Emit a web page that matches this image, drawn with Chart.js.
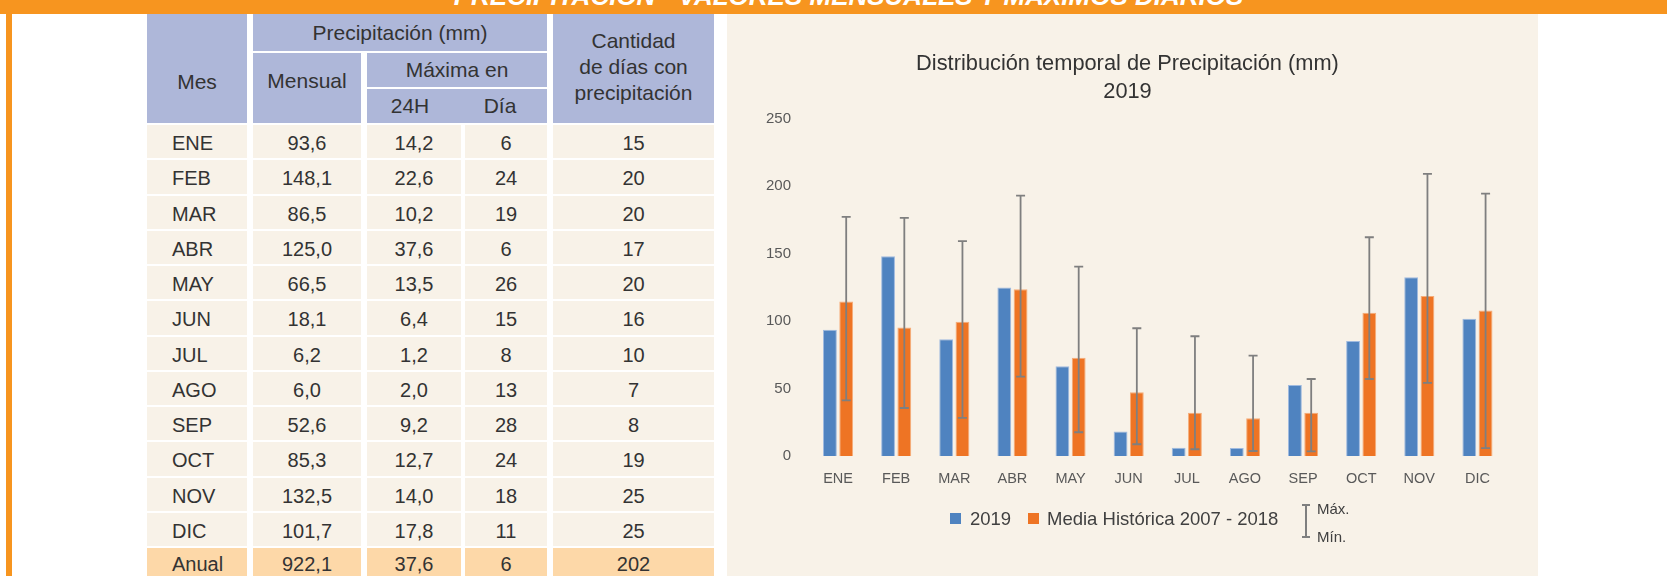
<!DOCTYPE html>
<html lang="es">
<head>
<meta charset="utf-8">
<title>Precipitación - valores mensuales y máximos diarios</title>
<script src="https://cdn.jsdelivr.net/npm/chart.js@4.4.1/dist/chart.umd.min.js"></script>
<style>
  body {
    margin: 0;
    width: 1667px;
    height: 576px;
    overflow: hidden;
    position: relative;
    background: #fff;
    font-family: "Liberation Sans", Arial, sans-serif;
    color: #333;
  }
  .band {
    position: absolute; left: 0; top: 0;
    width: 1667px; height: 14px;
    background: #F7951F;
    overflow: hidden;
  }
  .band span {
    position: absolute; left: 440px; top: -16px;
    width: 817px; text-align: center;
    font: italic bold 26px/25px "Liberation Sans", Arial, sans-serif;
    color: #fff; white-space: nowrap;
  }
  .side {
    position: absolute; left: 6px; top: 0;
    width: 6px; height: 576px;
    background: #F7951F;
  }
  .cell {
    position: absolute;
    box-sizing: border-box;
    display: flex; align-items: center; justify-content: center;
    white-space: nowrap;
  }
  .head { background: #AEB7D9; font-size: 21px; }
  .row { background: #F8F2E8; font-size: 20px; padding-top: 4px; }
  .total { background: #FDD8A8; font-size: 20px; padding-top: 1px; }
  .panel {
    position: absolute; left: 727px; top: 14px;
    width: 811px; height: 562px;
    background: #F8F2E8;
  }
  .chartBox { position: absolute; left: 0; top: 1px; width: 811px; height: 561px; }
  .leg { position: absolute; white-space: nowrap; color: #404040; }
  .sq { position: absolute; width: 11px; height: 11px; }
</style>
</head>
<body>
<div class="band"><span>PRECIPITACIÓN - VALORES MENSUALES Y MÁXIMOS DIARIOS</span></div>
<div class="side"></div>
<div id="tabla"></div>

<div class="panel">
  <div class="chartBox"><canvas id="precipChart"></canvas></div>
</div>

<!-- leyenda -->
<div class="sq" style="left:950px; top:513px; background:#4F83C0;"></div>
<div class="leg" style="left:970px; top:507px; font-size:18.5px; line-height:24px;">2019</div>
<div class="sq" style="left:1028px; top:513px; background:#EE7424;"></div>
<div class="leg" style="left:1047px; top:507px; font-size:18.5px; line-height:24px;">Media Histórica 2007 - 2018</div>
<div style="position:absolute; left:1305px; top:505px; width:2px; height:32px; background:#7F7F7F;"></div>
<div style="position:absolute; left:1302px; top:504px; width:8px; height:2px; background:#7F7F7F;"></div>
<div style="position:absolute; left:1302px; top:536px; width:8px; height:2px; background:#7F7F7F;"></div>
<div class="leg" style="left:1317px; top:500px; font-size:15px; line-height:18px;">Máx.</div>
<div class="leg" style="left:1317px; top:528px; font-size:15px; line-height:18px;">Mín.</div>

<script>
const meses = ["ENE", "FEB", "MAR", "ABR", "MAY", "JUN", "JUL", "AGO", "SEP", "OCT", "NOV", "DIC"];
const mensual2019 = [93.6, 148.1, 86.5, 125.0, 66.5, 18.1, 6.2, 6.0, 52.6, 85.3, 132.5, 101.7];
const maxima24h = [14.2, 22.6, 10.2, 37.6, 13.5, 6.4, 1.2, 2.0, 9.2, 12.7, 14.0, 17.8];
const diaMaxima = [6, 24, 19, 6, 26, 15, 8, 13, 28, 24, 18, 11];
const diasConPrecip = [15, 20, 20, 17, 20, 16, 10, 7, 8, 19, 25, 25];
const anual = [922.1, 37.6, 6, 202];

// media histórica 2007-2018 y su rango
const mediaHistorica = [114.5, 95.2, 99.6, 123.6, 72.9, 47.2, 32.1, 28.0, 32.1, 106.3, 118.7, 107.8];
const maxHistorico = [177.3, 176.6, 159.3, 193.1, 140.4, 94.7, 88.8, 74.4, 57.1, 162.2, 209.2, 194.6];
const minHistorico = [41.3, 35.6, 28.2, 58.8, 17.6, 8.7, 5.0, 3.7, 3.5, 57.1, 54.2, 5.9];

const yTicks = [0, 50, 100, 150, 200, 250];

// ---- tabla ----
const cols = [[147, 247], [253, 361], [367, 461], [465, 547], [553, 714]];
const tabla = document.getElementById("tabla");

function addCell(cls, x0, x1, y0, y1, html, style) {
  const d = document.createElement("div");
  d.className = "cell " + cls;
  d.style.left = x0 + "px";
  d.style.top = y0 + "px";
  d.style.width = (x1 - x0) + "px";
  d.style.height = (y1 - y0) + "px";
  d.innerHTML = html;
  if (style) d.style.cssText += style;
  tabla.appendChild(d);
  return d;
}

const dec = v => v.toFixed(1).replace(".", ",");

addCell("head", 147, 247, 14, 123, "Mes", "padding-top:27px;");
addCell("head", 253, 547, 14, 51, "Precipitación (mm)");
addCell("head", 253, 361, 53, 123, "Mensual", "padding-bottom:14px;");
addCell("head", 367, 547, 53, 87, "Máxima en");
addCell("head", 367, 547, 89, 123,
  '<span style="position:absolute;left:43px;transform:translateX(-50%)">24H</span>' +
  '<span style="position:absolute;left:133px;transform:translateX(-50%)">Día</span>');
addCell("head", 553, 714, 14, 123,
  '<div style="text-align:center;line-height:26px;">Cantidad<br>de días con<br>precipitación</div>',
  "padding-bottom:4px;");

meses.forEach((m, i) => {
  const y0 = 125 + i * 35.25, y1 = y0 + 33.25;
  addCell("row", cols[0][0], cols[0][1], y0, y1, m, "justify-content:flex-start;padding-left:25px;");
  addCell("row", cols[1][0], cols[1][1], y0, y1, dec(mensual2019[i]));
  addCell("row", cols[2][0], cols[2][1], y0, y1, dec(maxima24h[i]));
  addCell("row", cols[3][0], cols[3][1], y0, y1, diaMaxima[i]);
  addCell("row", cols[4][0], cols[4][1], y0, y1, diasConPrecip[i]);
});

{
  const y0 = 548, y1 = 580;
  addCell("total", cols[0][0], cols[0][1], y0, y1, "Anual", "justify-content:flex-start;padding-left:25px;");
  addCell("total", cols[1][0], cols[1][1], y0, y1, dec(anual[0]));
  addCell("total", cols[2][0], cols[2][1], y0, y1, dec(anual[1]));
  addCell("total", cols[3][0], cols[3][1], y0, y1, anual[2]);
  addCell("total", cols[4][0], cols[4][1], y0, y1, anual[3]);
}

// ---- gráfico ----
Chart.defaults.font.family = '"Liberation Sans", Arial, sans-serif';

const errorBars = {
  id: "errorBars",
  afterDatasetsDraw(chart) {
    const meta = chart.getDatasetMeta(1);
    const y = chart.scales.y;
    const c = chart.ctx;
    c.save();
    c.strokeStyle = "#7F7F7F";
    c.lineWidth = 1.8;
    meta.data.forEach((bar, i) => {
      const top = y.getPixelForValue(maxHistorico[i]);
      const bot = y.getPixelForValue(minHistorico[i]);
      c.beginPath();
      c.moveTo(bar.x, top); c.lineTo(bar.x, bot);
      c.moveTo(bar.x - 4.5, top); c.lineTo(bar.x + 4.5, top);
      c.moveTo(bar.x - 4.5, bot); c.lineTo(bar.x + 4.5, bot);
      c.stroke();
    });
    c.restore();
  }
};

new Chart(document.getElementById("precipChart"), {
  type: "bar",
  data: {
    labels: meses,
    datasets: [
      {
        label: "2019",
        data: mensual2019,
        backgroundColor: "#4F83C0",
        borderColor: "#9FBADF",
        borderWidth: 1,
        categoryPercentage: 0.56,
        barPercentage: 0.85
      },
      {
        label: "Media Histórica 2007 - 2018",
        data: mediaHistorica,
        backgroundColor: "#EE7424",
        borderColor: "#F5AC78",
        borderWidth: 1,
        categoryPercentage: 0.56,
        barPercentage: 0.85
      }
    ]
  },
  options: {
    responsive: true,
    maintainAspectRatio: false,
    animation: false,
    layout: { padding: { left: 21.5, right: 31.5, top: 0, bottom: 90 } },
    plugins: {
      legend: { display: false },
      tooltip: { enabled: false },
      title: {
        display: true,
        text: ["Distribución temporal de Precipitación (mm)", "2019"],
        color: "#333",
        font: { size: 21.8, weight: "normal", lineHeight: 1.28 },
        padding: { top: 35, bottom: 13 }
      }
    },
    scales: {
      x: {
        grid: { display: false, drawTicks: false },
        border: { display: false },
        ticks: { color: "#595959", font: { size: 14.5 }, padding: 14 },
        afterFit(s) { s.height = 30; }
      },
      y: {
        min: yTicks[0],
        max: yTicks[yTicks.length - 1],
        grid: { display: false, drawTicks: false },
        border: { display: false },
        ticks: { stepSize: 50, color: "#595959", font: { size: 15 }, padding: 18 },
        afterFit(s) { s.width = 60.5; }
      }
    }
  },
  plugins: [errorBars]
});
</script>
</body>
</html>
